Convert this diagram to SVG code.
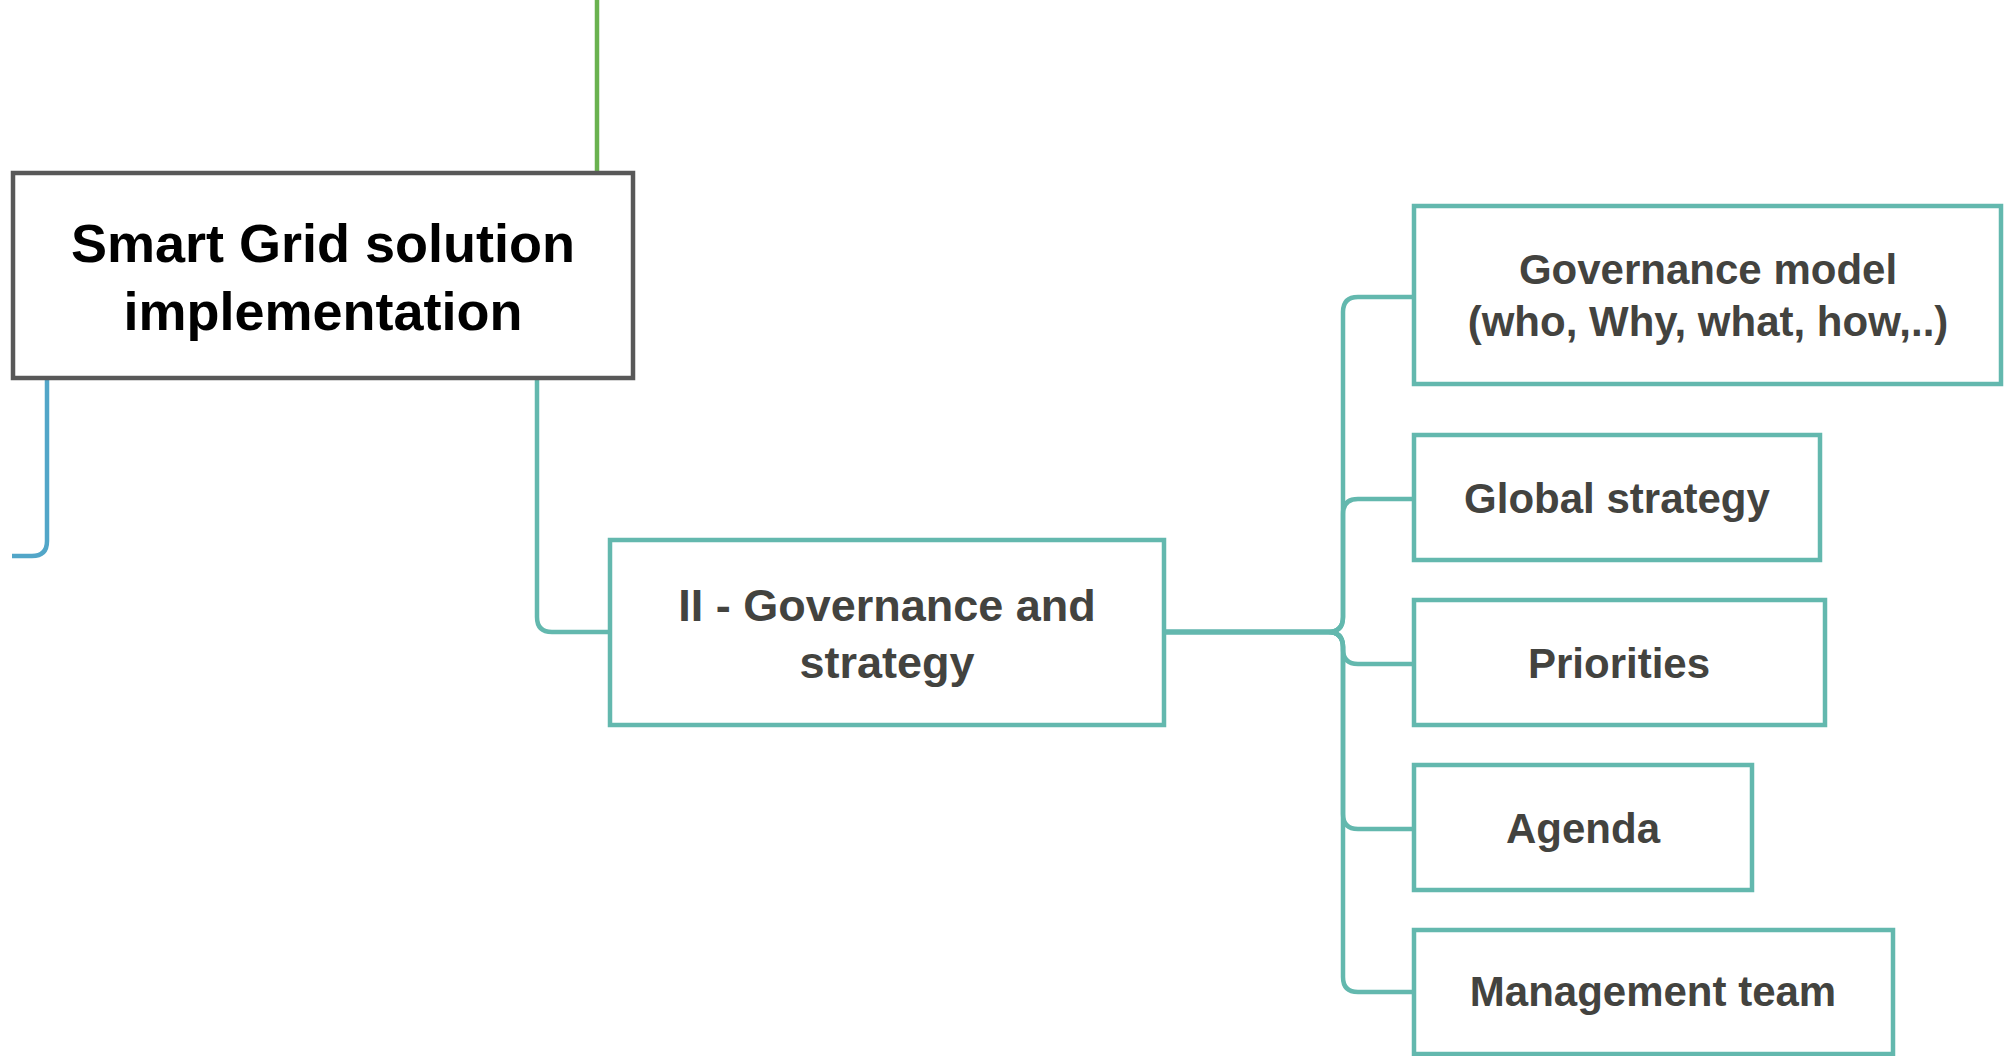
<svg xmlns="http://www.w3.org/2000/svg" width="2005" height="1056" viewBox="0 0 2005 1056">
  <style>
    .root rect { fill: #ffffff; stroke: #585858; stroke-width: 4.5; }
    .topic rect { fill: #ffffff; stroke: #63b8ae; stroke-width: 4.5; }
    .root text { font-family: "Liberation Sans", Arial, sans-serif; font-weight: bold; font-size: 54px; fill: #000000; text-anchor: middle; }
    .topic text { font-family: "Liberation Sans", Arial, sans-serif; font-weight: bold; font-size: 42px; fill: #43433f; text-anchor: middle; }
    .links path { fill: none; stroke-width: 4.5; }
    .teal { stroke: #63b8ae; }
  </style>

  <g class="links" id="connectors">
    <path d="M597,0 V173" stroke="#6ab24f" stroke-width="3.5"/>
    <path d="M47,378 V541 Q47,556 32,556 H12" stroke="#52a6c8"/>
    <path class="teal" d="M537,378 V617 Q537,632 552,632 H610"/>
    <path class="teal" d="M1164,632 H1328 Q1343,632 1343,617 V312 Q1343,297 1358,297 H1414"/>
    <path class="teal" d="M1164,632 H1328 Q1343,632 1343,617 V514 Q1343,499 1358,499 H1414"/>
    <path class="teal" d="M1164,632 H1328 Q1343,632 1343,647 V649 Q1343,664 1358,664 H1414"/>
    <path class="teal" d="M1164,632 H1328 Q1343,632 1343,647 V814 Q1343,829 1358,829 H1414"/>
    <path class="teal" d="M1164,632 H1328 Q1343,632 1343,647 V977 Q1343,992 1358,992 H1414"/>
  </g>

  <g id="smart-grid" class="root">
    <rect x="13" y="173" width="620" height="205"/>
    <text x="323" y="262">Smart Grid solution</text>
    <text x="323" y="330">implementation</text>
  </g>

  <g id="governance-strategy" class="topic">
    <rect x="610" y="540" width="554" height="185"/>
    <text x="887" y="621" style="font-size:45px">II - Governance and</text>
    <text x="887" y="678" style="font-size:45px">strategy</text>
  </g>

  <g id="governance-model" class="topic">
    <rect x="1414" y="206" width="587" height="178"/>
    <text x="1708" y="284">Governance model</text>
    <text x="1708" y="336">(who, Why, what, how,..)</text>
  </g>

  <g id="global-strategy" class="topic">
    <rect x="1414" y="435" width="406" height="125"/>
    <text x="1617" y="513">Global strategy</text>
  </g>

  <g id="priorities" class="topic">
    <rect x="1414" y="600" width="411" height="125"/>
    <text x="1619" y="678">Priorities</text>
  </g>

  <g id="agenda" class="topic">
    <rect x="1414" y="765" width="338" height="125"/>
    <text x="1583" y="843">Agenda</text>
  </g>

  <g id="management-team" class="topic">
    <rect x="1414" y="930" width="479" height="124"/>
    <text x="1653" y="1006">Management team</text>
  </g>
</svg>
